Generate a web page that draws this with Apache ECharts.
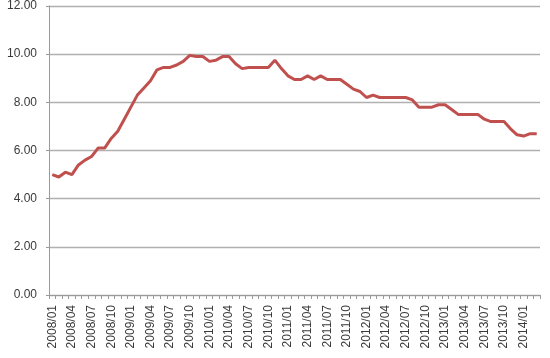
<!DOCTYPE html>
<html>
<head>
<meta charset="utf-8">
<script src="https://cdn.jsdelivr.net/npm/echarts@6/dist/echarts.min.js"></script>
<style>html,body{margin:0;padding:0;background:#fff;}#c{width:550px;height:358px;}</style>
</head>
<body>
<div id="c"></div>
<script>
var categories = [
"2008/01","2008/02","2008/03","2008/04","2008/05","2008/06","2008/07","2008/08","2008/09","2008/10","2008/11","2008/12",
"2009/01","2009/02","2009/03","2009/04","2009/05","2009/06","2009/07","2009/08","2009/09","2009/10","2009/11","2009/12",
"2010/01","2010/02","2010/03","2010/04","2010/05","2010/06","2010/07","2010/08","2010/09","2010/10","2010/11","2010/12",
"2011/01","2011/02","2011/03","2011/04","2011/05","2011/06","2011/07","2011/08","2011/09","2011/10","2011/11","2011/12",
"2012/01","2012/02","2012/03","2012/04","2012/05","2012/06","2012/07","2012/08","2012/09","2012/10","2012/11","2012/12",
"2013/01","2013/02","2013/03","2013/04","2013/05","2013/06","2013/07","2013/08","2013/09","2013/10","2013/11","2013/12",
"2014/01","2014/02","2014/03"
];
var values = [
5.0,4.9,5.1,5.0,5.4,5.6,5.75,6.1,6.1,6.5,6.8,7.3,
7.8,8.3,8.6,8.9,9.35,9.45,9.45,9.55,9.7,9.95,9.9,9.9,
9.7,9.75,9.9,9.9,9.6,9.4,9.45,9.45,9.45,9.45,9.75,9.4,
9.1,8.95,8.95,9.1,8.95,9.1,8.95,8.95,8.95,8.75,8.55,8.45,
8.2,8.3,8.2,8.2,8.2,8.2,8.2,8.1,7.8,7.8,7.8,7.9,
7.9,7.7,7.5,7.5,7.5,7.5,7.3,7.2,7.2,7.2,6.9,6.65,
6.6,6.7,6.7
];
var yMin = 0, yMax = 12, yStep = 2;

var chart = echarts.init(document.getElementById('c'), null, {renderer:'canvas'});
chart.setOption({
  animation: false,
  backgroundColor: '#ffffff',
  grid: {left: 49, right: 10, top: 6, bottom: 63, containLabel: false},
  xAxis: {
    type: 'category',
    data: categories,
    boundaryGap: true,
    axisLine: {show: true, lineStyle: {color: '#9a9a9a', width: 1}},
    axisTick: {show: true, interval: 0, length: 4, lineStyle: {color: '#9a9a9a'}},
    axisLabel: {
      interval: 2, rotate: 90, margin: 10,
      fontFamily: 'Liberation Sans', fontSize: 12, color: '#3a3a3a'
    },
    splitLine: {show: false}
  },
  yAxis: {
    type: 'value',
    min: yMin, max: yMax, interval: yStep,
    axisLine: {show: true, lineStyle: {color: '#9a9a9a', width: 1}},
    axisTick: {show: true, length: 3, lineStyle: {color: '#9a9a9a'}},
    axisLabel: {
      margin: 12,
      fontFamily: 'Liberation Sans', fontSize: 12, color: '#3a3a3a',
      formatter: function (v) { return v.toFixed(2); }
    },
    splitLine: {show: true, lineStyle: {color: '#b0b0b0', width: 1.3}}
  },
  series: [{
    type: 'line',
    data: values,
    symbol: 'none',
    smooth: false,
    lineStyle: {color: '#c0504d', width: 3},
    itemStyle: {color: '#c0504d'}
  }]
});
</script>
</body>
</html>
